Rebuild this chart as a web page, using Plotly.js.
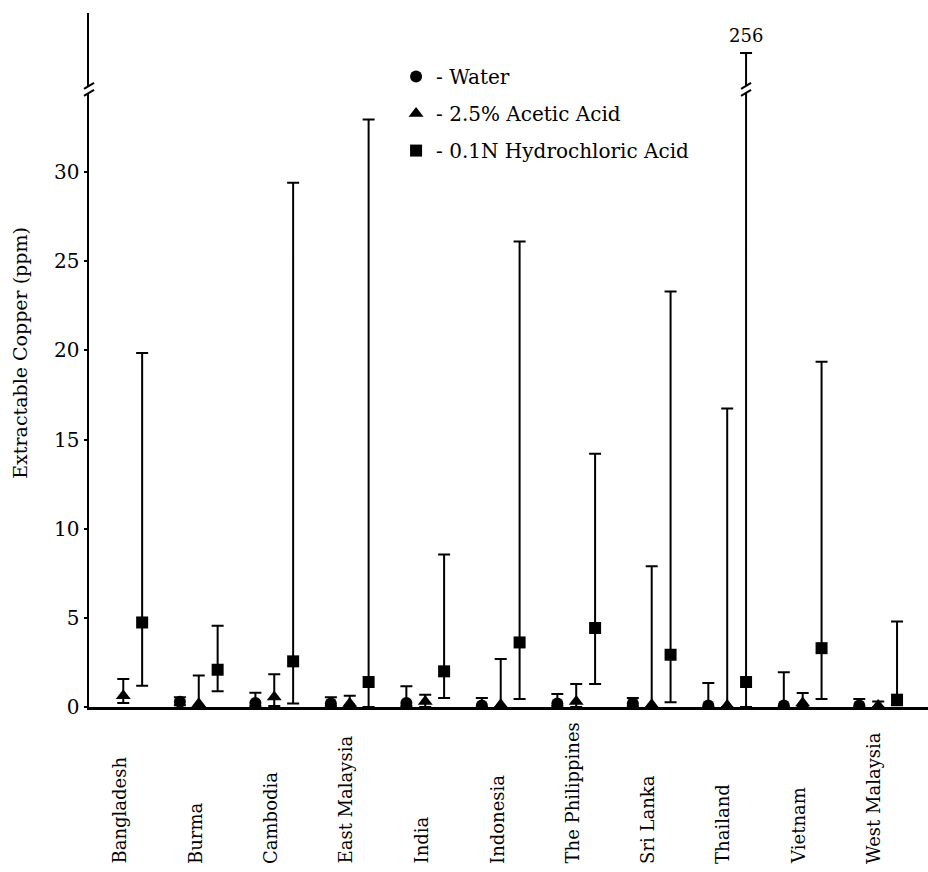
<!DOCTYPE html>
<html>
<head>
<meta charset="utf-8">
<script src="https://cdn.plot.ly/plotly-3.0.1.min.js"></script>
<style>html,body{margin:0;padding:0;background:#fff;}#chart{width:928px;height:872px;}</style>
</head>
<body>
<div id="chart"></div>
<script>
// ---- data ----
const countries = ['Bangladesh','Burma','Cambodia','East Malaysia','India','Indonesia','The Philippines','Sri Lanka','Thailand','Vietnam','West Malaysia'];

const waterMean = [null, 0.30, 0.22, 0.19, 0.22, 0.09, 0.19, 0.19, 0.09, 0.09, 0.09];
const waterLow  = [null, 0.10, 0.05, 0.05, 0.05, 0.00, 0.05, 0.05, 0.00, 0.00, 0.00];
const waterHigh = [null, 0.55, 0.80, 0.55, 1.16, 0.50, 0.73, 0.50, 1.35, 1.95, 0.45];

const aceticMean = [0.63, 0.18, 0.56, 0.19, 0.31, 0.13, 0.31, 0.13, 0.09, 0.22, 0.09];
const aceticLow  = [0.22, 0.00, 0.05, 0.00, 0.00, 0.00, 0.00, 0.00, 0.00, 0.00, 0.00];
const aceticHigh = [1.57, 1.76, 1.83, 0.63, 0.69, 2.69, 1.29, 7.89, 16.74, 0.78, 0.31];

const hclMean = [4.74, 2.09, 2.56, 1.40, 2.00, 3.62, 4.43, 2.93, 1.40, 3.30, 0.41];
const hclLow  = [1.19, 0.88, 0.19, 0.00, 0.50, 0.45, 1.29, 0.26, 0.00, 0.45, 0.10];
const hclHigh = [19.85, 4.56, 29.39, 32.95, 8.55, 26.10, 14.20, 23.30, 256, 19.36, 4.80];

// ---- styling ----
const FONT = 'DejaVu Serif';
const scatterGap = 0.25;
const slot = (1 - scatterGap) / 3;

function plus(mean, high){ return mean.map((m,i)=> m==null ? null : high[i]-m); }
function minus(mean, low){ return mean.map((m,i)=> m==null ? null : m-low[i]); }

function series(name, mean, low, high, symbol, size, yaxis, showlegend, group){
  return {
    type:'scatter', mode:'markers', x:countries, y:mean, name:name,
    yaxis:yaxis, showlegend:showlegend, legendgroup:group, offsetgroup:group,
    cliponaxis:true, hoverinfo:'skip',
    marker:{symbol:symbol, size:size, color:'#000'},
    error_y:{type:'data', symmetric:false, array:plus(mean,high), arrayminus:minus(mean,low),
             color:'#000', thickness:2, width:6}
  };
}

const traces = [
  series('- Water', waterMean, waterLow, waterHigh, 'circle', 12, 'y', true, 'w'),
  series('- 2.5% Acetic Acid', aceticMean, aceticLow, aceticHigh, 'triangle-up', 13, 'y', true, 'a'),
  series('- 0.1N Hydrochloric Acid', hclMean, hclLow, hclHigh, 'square', 12, 'y', true, 'h'),
  series('- Water', waterMean, waterLow, waterHigh, 'circle', 12, 'y2', false, 'w'),
  series('- 2.5% Acetic Acid', aceticMean, aceticLow, aceticHigh, 'triangle-up', 13, 'y2', false, 'a'),
  series('- 0.1N Hydrochloric Acid', hclMean, hclLow, hclHigh, 'square', 12, 'y2', false, 'h')
];

const lowTop = 0.885, upBottom = 0.895;
const thaiIdx = countries.indexOf('Thailand');
const thaiX = thaiIdx + slot;

function slash(xref, xanchor, yanchor){
  return {type:'line', xref:xref, yref:'paper', xsizemode:'pixel', ysizemode:'pixel',
          xanchor:xanchor, yanchor:yanchor, x0:-5, x1:5, y0:-3, y1:3,
          line:{color:'#000', width:2}, layer:'above'};
}

const annotations = countries.map(c => ({
  text:c, x:c, xref:'x', y:-0.2287, yref:'paper', yanchor:'bottom', xanchor:'center',
  textangle:-90, showarrow:false, xshift:-4, font:{family:FONT, size:18, color:'#000'}
}));
annotations.push({
  text:'Extractable Copper (ppm)', xref:'paper', yref:'paper', x:-0.0822, y:0.5105,
  xanchor:'center', yanchor:'middle', textangle:-90, showarrow:false,
  font:{family:FONT, size:19, color:'#000'}
});
annotations.push({
  text:String(hclHigh[thaiIdx]), xref:'x', x:thaiX, yref:'y2', y:hclHigh[thaiIdx],
  yanchor:'bottom', xanchor:'center', yshift:5, showarrow:false,
  font:{family:FONT, size:18, color:'#000'}
});

const layout = {
  width:928, height:872,
  margin:{l:89, r:0, t:13, b:165},
  paper_bgcolor:'#fff', plot_bgcolor:'#fff',
  font:{family:FONT, color:'#000'},
  scattermode:'group', scattergap:scatterGap,
  xaxis:{type:'category', range:[-0.454, 10.66], showline:true, linecolor:'#000', linewidth:2.5,
         ticks:'', showticklabels:false, showgrid:false, zeroline:false, fixedrange:true},
  yaxis:{domain:[0, lowTop], range:[0, 34.44], showline:true, linecolor:'#000', linewidth:2.5,
         ticks:'outside', ticklen:3, tickwidth:2, tickcolor:'#000', tick0:0, dtick:5,
         tickfont:{family:FONT, size:20, color:'#000'}, showgrid:false, zeroline:false},
  yaxis2:{domain:[upBottom, 1], range:[250, 263.3], anchor:'x', showline:true, linecolor:'#000',
          linewidth:2.5, ticks:'', showticklabels:false, showgrid:false, zeroline:false},
  showlegend:true,
  legend:{x:0.366, y:0.9365, xanchor:'left', yanchor:'top', bgcolor:'rgba(0,0,0,0)',
          font:{family:FONT, size:20, color:'#000'}, tracegroupgap:8, traceorder:'grouped'},
  shapes:[
    slash('paper', 0, upBottom), slash('paper', 0, lowTop),
    slash('x', thaiX, upBottom), slash('x', thaiX, lowTop)
  ],
  annotations:annotations
};

Plotly.newPlot('chart', traces, layout, {displayModeBar:false, staticPlot:true});
</script>
</body>
</html>
